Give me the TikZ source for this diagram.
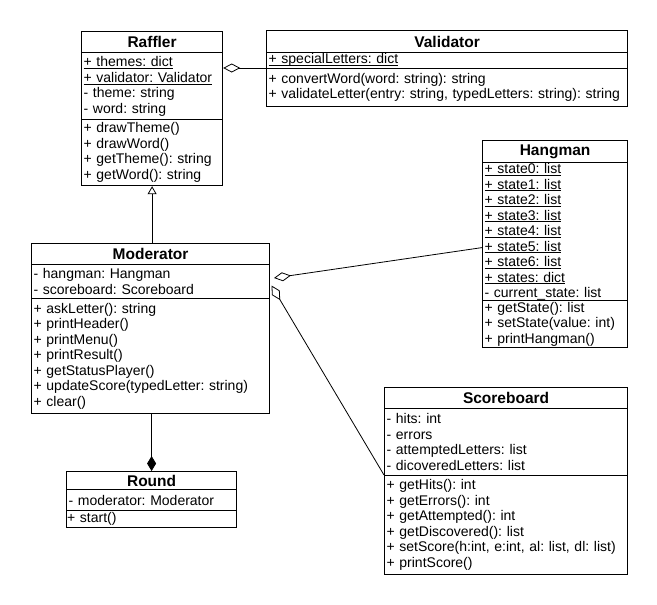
\documentclass[tikz,border=0pt]{standalone}
\usepackage{fontspec}
\setmainfont{Liberation Sans}
\usetikzlibrary{arrows.meta}
\frenchspacing
\newcommand\classvar[1]{\underline{\smash{#1}}\strut}
\begin{document}
\begin{tikzpicture}[x=1pt, y=-1pt, every node/.style={draw, anchor=north west, line width=1.2pt, inner xsep=2, inner ysep=0},
    head/.style={align=center, font=\fontsize{15.5}{18}\selectfont\bfseries},
    body/.style={align=left, font=\fontsize{14}{15.5}\selectfont},
    aggr/.style={arrows={Diamond[open,length=17pt,width=9pt]}-, line width=0.8pt},
    comp/.style={arrows={Diamond[length=15pt,width=9pt]}-, line width=0.8pt},
    inherit/.style={arrows=-{Triangle[open,length=8pt,width=9pt]}, line width=0.8pt}]
    \useasboundingbox (0,0) rectangle (657,605);

    \draw(81, 31) node [head, text width=137, minimum height=21](raf0){Raffler};
    \draw(81, 52) node [body, text width=137, minimum height=67](raf1){\classvar{+ themes: dict}\\\classvar{+ validator: Validator}\\- theme: string\\- word: string};
    \draw(81, 119) node [body, text width=137, minimum height=66](raf2){+ drawTheme()\\+ drawWord()\\+ getTheme(): string\\+ getWord(): string};

    \draw(266, 30) node [head, text width=357, minimum height=22](val0){Validator};
    \draw(266, 52) node [body, text width=357, minimum height=16](val1){\classvar{+ specialLetters: dict}};
    \draw(266, 68) node [body, text width=357, minimum height=38](val2){+ convertWord(word: string): string\\+ validateLetter(entry: string, typedLetters: string): string};

    \draw(482, 140) node [head, text width=141, minimum height=22](han0){Hangman};
    \draw(482, 162) node [body, text width=141, minimum height=138](han1){\classvar{+ state0: list}\\\classvar{+ state1: list}\\\classvar{+ state2: list}\\\classvar{+ state3: list}\\\classvar{+ state4: list}\\\classvar{+ state5: list}\\\classvar{+ state6: list}\\\classvar{+ states: dict}\\- current\_state: list};
    \draw(482, 300) node [body, text width=141, minimum height=47](han2){+ getState(): list\\+ setState(value: int)\\+ printHangman()};

    \draw(31, 243) node [head, text width=234, minimum height=21](mod0){Moderator};
    \draw(31, 264) node [body, text width=234, minimum height=34](mod1){- hangman: Hangman\\- scoreboard: Scoreboard};
    \draw(31, 298) node [body, text width=234, minimum height=115](mod2){+ askLetter(): string\\+ printHeader()\\+ printMenu()\\+ printResult()\\+ getStatusPlayer()\\+ updateScore(typedLetter: string)\\+ clear()};

    \draw(384, 387) node [head, text width=239, minimum height=21](sco0){Scoreboard};
    \draw(384, 408) node [body, text width=239, minimum height=67](sco1){- hits: int\\- errors\\- attemptedLetters: list\\- dicoveredLetters: list};
    \draw(384, 475) node [body, text width=239, minimum height=99](sco2){+ getHits(): int\\+ getErrors(): int\\+ getAttempted(): int\\+ getDiscovered(): list\\+ setScore(h:int, e:int, al: list, dl: list)\\+ printScore()};

    \draw(66, 471) node [head, text width=166, minimum height=18](rou0){Round};
    \draw(66, 489) node [body, text width=166, minimum height=21](rou1){- moderator: Moderator};
    \draw(66, 510) node [body, text width=169, minimum height=17, inner xsep=0.5](rou2){+ start()};

    \coordinate (hanEnd) at (274, 278);
    \coordinate (scoEnd) at (271.5, 285.5);

    \draw[inherit] (raf2.south |- mod0.north) -- (raf2.south);
    \draw[aggr] (raf1.east |- val2.north) -- (val2.north west);
    \draw[aggr] (hanEnd) -- ([yshift=-16pt]han1.west);
    \draw[aggr] (scoEnd) -- (sco2.north west);
    \draw[comp] (rou0.north) -- (rou0.north |- mod2.south);
\end{tikzpicture}
\end{document}
